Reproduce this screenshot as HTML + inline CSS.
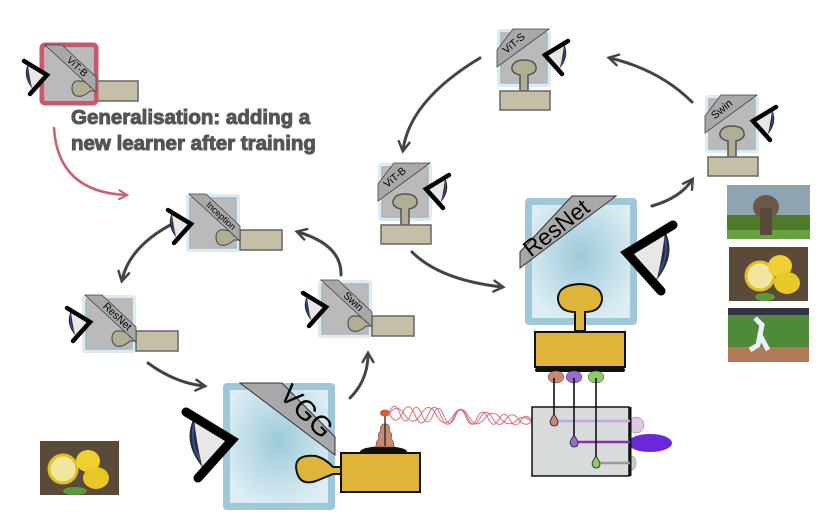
<!DOCTYPE html>
<html><head><meta charset="utf-8"><style>
html,body{margin:0;padding:0;background:#fff;}
svg{display:block;font-family:"Liberation Sans",sans-serif;}
</style></head><body>
<svg width="822" height="530" viewBox="0 0 822 530" xmlns="http://www.w3.org/2000/svg">
<defs>
<radialGradient id="bg" cx="50%" cy="45%" r="60%">
<stop offset="0" stop-color="#9ccada"/><stop offset="1" stop-color="#dcedf3"/>
</radialGradient>
<marker id="ah" viewBox="0 0 10 10" refX="7" refY="5" markerWidth="4.5" markerHeight="4.5" orient="auto">
<path d="M1,1 L8,5 L1,9" fill="none" stroke="#444" stroke-width="1.8" stroke-linecap="round"/>
</marker>
<marker id="ahr" viewBox="0 0 10 10" refX="7" refY="5" markerWidth="4.5" markerHeight="4.5" orient="auto">
<path d="M1,1 L8,5 L1,9" fill="none" stroke="#c96070" stroke-width="1.8" stroke-linecap="round"/>
</marker>
<!-- eye: chevron apex at (6,24), looking right -->
<g id="eyeL">
<path d="M-13,13 L5,24 L-8,38 Q-18,27 -13,13Z" fill="#e8e6e6" stroke="#333" stroke-width="0.5"/>
<path d="M-13,13 Q-19,25 -9,37 Q-12,24 -13,13Z" fill="#2a2a30"/>
<path d="M-13,16 Q-15,25 -10,34" fill="none" stroke="#3050a0" stroke-width="1"/>
<path d="M-17,10 L6,24 L-11,43" fill="none" stroke="#000" stroke-width="4.5" stroke-linecap="round" stroke-linejoin="miter"/>
</g>
<g id="side">
<rect x="0" y="0" width="54" height="58" rx="3" fill="#dcebf1"/>
<rect x="4" y="4" width="46" height="50" fill="#bababa" stroke="#a9b7bc" stroke-width="1.5"/>
<path d="M38,36 Q30,35 30,44 Q31,53 40,51 Q45,49 48,46 L54,46 L54,42 L48,42 Q45,36 38,36Z" fill="#b2ad95" stroke="#555" stroke-width="1.2"/>
<rect x="54" y="36" width="42" height="20" fill="#c6bfa8" stroke="#666" stroke-width="1.5"/>
</g>
<g id="stem">
<rect x="0" y="0" width="54" height="58" rx="3" fill="#dcebf1"/>
<rect x="4" y="4" width="46" height="50" fill="#bababa" stroke="#a9b7bc" stroke-width="1.5"/>
<path d="M23,46 Q14,44 15,38 Q17,31 27,31 Q38,31 39,38 Q40,44 31,46 L31,62 L23,62Z" fill="#b2ad95" stroke="#555" stroke-width="1.5"/>
<rect x="3" y="62" width="50" height="19" fill="#c6bfa8" stroke="#666" stroke-width="1.5"/>
</g>
</defs>

<!-- arrows -->
<g fill="none" stroke="#444" stroke-width="3" stroke-linecap="round">
<path d="M480,58 Q410,100 403,150" marker-end="url(#ah)"/>
<path d="M692,102 Q660,70 610,58" marker-end="url(#ah)"/>
<path d="M652,206 Q680,198 692,180" marker-end="url(#ah)"/>
<path d="M412,252 Q440,280 502,287" marker-end="url(#ah)"/>
<path d="M176,222 Q130,245 122,280" marker-end="url(#ah)"/>
<path d="M148,363 Q175,383 204,386" marker-end="url(#ah)"/>
<path d="M350,398 Q368,380 368,354" marker-end="url(#ah)"/>
<path d="M341,275 Q342,245 298,232" marker-end="url(#ah)"/>
</g>
<path d="M54,128 Q58,192 126,195" fill="none" stroke="#c96070" stroke-width="2.5" stroke-linecap="round" marker-end="url(#ahr)"/>

<!-- text -->
<g font-weight="bold" font-size="20.5" fill="#555" stroke="#555" stroke-width="1">
<text x="71" y="124">Generalisation: adding a</text>
<text x="71" y="150">new learner after training</text>
</g>

<!-- ViT-B top-left (red) -->
<g transform="translate(42,45)">
<use href="#side"/>
<rect x="0" y="0" width="54" height="58" rx="3" fill="none" stroke="#c65a6a" stroke-width="5"/>
<polygon points="3,0 20,0 54,32 54,47" fill="#a8a8a8" stroke="#444" stroke-width="0.8"/>
<text font-size="10" transform="translate(33,24) rotate(43)" text-anchor="middle">ViT-B</text>
<use href="#eyeL" transform="translate(-1,6)"/>
</g>

<!-- Inception -->
<g transform="translate(186,194)">
<use href="#side"/>
<polygon points="3,0 20,0 54,32 54,47" fill="#a8a8a8" stroke="#444" stroke-width="0.8"/>
<text font-size="9" transform="translate(33,24) rotate(43)" text-anchor="middle">Inception</text>
<use href="#eyeL" transform="translate(-1,6)"/>
</g>

<!-- ResNet small -->
<g transform="translate(82,295)">
<use href="#side"/>
<polygon points="3,0 20,0 54,32 54,47" fill="#a8a8a8" stroke="#444" stroke-width="0.8"/>
<text font-size="10.5" transform="translate(33,24) rotate(43)" text-anchor="middle">ResNet</text>
<use href="#eyeL" transform="translate(2,3)"/>
</g>

<!-- Swin mid -->
<g transform="translate(318,280)">
<use href="#side"/>
<polygon points="3,0 20,0 54,32 54,47" fill="#a8a8a8" stroke="#444" stroke-width="0.8"/>
<text font-size="10.5" transform="translate(33,24) rotate(43)" text-anchor="middle">Swin</text>
<use href="#eyeL" transform="translate(2,3)"/>
</g>

<!-- ViT-S -->
<g transform="translate(497,29)">
<use href="#stem"/>
<polygon points="16,0 52,0 0,38 0,21" fill="#a8a8a8" stroke="#444" stroke-width="0.8"/>
<text font-size="10.5" transform="translate(19,17) rotate(-40)" text-anchor="middle">ViT-S</text>
<use href="#eyeL" transform="translate(54,2) scale(-1,1)"/>
</g>

<!-- Swin right -->
<g transform="translate(705,95)">
<use href="#stem"/>
<polygon points="16,0 52,0 0,38 0,21" fill="#a8a8a8" stroke="#444" stroke-width="0.8"/>
<text font-size="11" transform="translate(19,17) rotate(-40)" text-anchor="middle">Swin</text>
<use href="#eyeL" transform="translate(54,2) scale(-1,1)"/>
</g>

<!-- ViT-B mid -->
<g transform="translate(378,163)">
<use href="#stem"/>
<polygon points="16,0 52,0 0,38 0,21" fill="#a8a8a8" stroke="#444" stroke-width="0.8"/>
<text font-size="10.5" transform="translate(19,17) rotate(-40)" text-anchor="middle">ViT-B</text>
<use href="#eyeL" transform="translate(54,2) scale(-1,1)"/>
</g>

<!-- VGG big -->
<g>
<rect x="223" y="383" width="112" height="127" rx="4" fill="#9ec8d7"/>
<rect x="230" y="390" width="98" height="113" fill="url(#bg)"/>
<polygon points="240,383 282,383 335,437 335,455" fill="#a8a8a8" stroke="#333" stroke-width="1"/>
<text font-size="28" transform="translate(300,418) rotate(45)" text-anchor="middle">VGG</text>
<path d="M316,456 Q296,454 296,467 Q298,487 316,481 Q326,477 333,474 L342,474 L342,467 L333,467 Q326,459 316,456Z" fill="#dfb43a" stroke="#111" stroke-width="2"/>
<rect x="341" y="453" width="79" height="39" fill="#dfb43a" stroke="#111" stroke-width="2"/>
<path d="M360,452 Q360,447 384,446 Q407,447 407,452Z" fill="#111"/>
<path d="M376,447 Q376,440 379,439 Q377,433 381,431 Q379,427 383,424 L387,424 Q391,427 389,431 Q393,433 391,439 Q394,440 394,447Z" fill="#c98870" stroke="#6b3f30" stroke-width="0.6"/>
<line x1="385" y1="446" x2="385" y2="414" stroke="#222" stroke-width="1.3"/>
<ellipse cx="385" cy="413" rx="5" ry="3.5" fill="#d45a38"/>
<use href="#eyeL" transform="translate(220,392) scale(2)"/>
</g>

<!-- waves -->
<g fill="none" stroke="#d9707a" stroke-width="1">
<path d="M389,413 Q394.5,399 400,414 Q405.5,428 411,414 Q416.5,400 422,415 Q427.5,429 433,415 Q438.5,401 444,416 Q449.5,430 455,417 Q460.5,403 466,417 Q471.5,431 477,418 Q482.5,406 488,418 Q493.5,430 499,419 Q504.5,409 510,420 Q515.5,430 521,420 Q526.5,412 532,421"/>
<path d="M389,413 Q395.5,427 402,414 Q408.5,399 415,415 Q421.5,431 428,415 Q434.5,399 441,416 Q447.5,432 454,417 Q460.5,402 467,417 Q473.5,431 480,418 Q486.5,406 493,419 Q499.5,430 506,419 Q512.5,410 519,420 Q525.5,428 532,421"/>
<path d="M389,414 Q397,402 405,415 Q413,428 421,414 Q429,400 437,416 Q445,430 453,416 Q461,402 469,417 Q477,430 485,418 Q493,408 501,419 Q509,428 517,420 Q524,414 532,422"/>
</g>

<!-- ResNet big -->
<g>
<rect x="525" y="198" width="112" height="127" rx="4" fill="#9ec8d7"/>
<rect x="532" y="205" width="98" height="113" fill="url(#bg)"/>
<polygon points="572,196 616,196 520,268 520,252" fill="#a8a8a8" stroke="#333" stroke-width="1"/>
<text font-size="23" transform="translate(561,234) rotate(-38)" text-anchor="middle">ResNet</text>
<path d="M575,331 L575,312 Q560,312 558,300 Q557,285 580,284 Q603,285 602,300 Q600,312 585,312 L585,331Z" fill="#dfb43a" stroke="#111" stroke-width="2"/>
<rect x="535" y="332" width="90" height="35" fill="#dfb43a" stroke="#111" stroke-width="2"/>
<rect x="535" y="368" width="90" height="4" rx="2" fill="#111"/>
<g stroke="#444" stroke-width="0.5">
<ellipse cx="556" cy="377" rx="8" ry="6" fill="#c98870"/>
<ellipse cx="574" cy="377" rx="8" ry="6" fill="#9a6ad0"/>
<ellipse cx="596" cy="377" rx="8" ry="6" fill="#8dca68"/>
</g>
<use href="#eyeL" transform="translate(639,205) scale(-2,2)"/>
<!-- gray box -->
<rect x="532" y="407" width="97" height="69" fill="#d8dbdc" stroke="#111" stroke-width="1.5"/>
<ellipse cx="636" cy="425" rx="8" ry="8" fill="#dcc8e4" stroke="#777" stroke-width="0.5"/>
<ellipse cx="650" cy="443" rx="22" ry="9" fill="#6a28d8"/>
<ellipse cx="632" cy="463" rx="4" ry="7" fill="#ccc" stroke="#777" stroke-width="0.5"/>
<line x1="630" y1="407" x2="630" y2="476" stroke="#111" stroke-width="3"/>
<line x1="554" y1="421" x2="630" y2="421" stroke="#c8a8dc" stroke-width="2.5"/>
<line x1="574" y1="442" x2="630" y2="442" stroke="#8a30b0" stroke-width="2.5"/>
<line x1="596" y1="463" x2="630" y2="463" stroke="#999" stroke-width="2.5"/>
<g stroke="#111" stroke-width="1.6">
<line x1="554" y1="378" x2="554" y2="418"/>
<line x1="574" y1="378" x2="574" y2="439"/>
<line x1="596" y1="378" x2="596" y2="459"/>
</g>
<path d="M554,414 Q550,420 550,422 Q551,426 554,426 Q558,426 558,422 Q558,420 554,414Z" fill="#c98870" stroke="#222" stroke-width="0.8"/>
<path d="M574,435 Q570,441 570,443 Q571,447 574,447 Q578,447 578,443 Q578,441 574,435Z" fill="#9a6ad0" stroke="#222" stroke-width="0.8"/>
<path d="M596,456 Q592,462 592,464 Q593,468 596,468 Q600,468 600,464 Q600,462 596,456Z" fill="#8dca68" stroke="#222" stroke-width="0.8"/>
</g>

<!-- photos -->
<g>
<rect x="727" y="185" width="83" height="54" fill="#8fa3b0"/>
<rect x="727" y="215" width="83" height="24" fill="#4f7a2c"/>
<rect x="727" y="230" width="83" height="9" fill="#6aa040"/>
<ellipse cx="766" cy="207" rx="13" ry="12" fill="#6a5848"/>
<rect x="760" y="208" width="12" height="27" fill="#5a4a3c"/>

<rect x="729" y="247" width="79" height="54" fill="#5a4a3a"/>
<circle cx="760" cy="276" r="14" fill="#f0e6a0" stroke="#e0c020" stroke-width="3"/>
<ellipse cx="780" cy="266" rx="12" ry="11" fill="#f0d030"/>
<ellipse cx="787" cy="283" rx="13" ry="11" fill="#e8c828"/>
<ellipse cx="765" cy="297" rx="10" ry="4" fill="#5a9a3a"/>

<rect x="728" y="308" width="81" height="54" fill="#4f8a3a"/>
<rect x="728" y="308" width="81" height="7" fill="#334"/>
<rect x="728" y="347" width="81" height="15" fill="#b07a5a"/>
<path d="M755,318 L762,325 L758,345 L750,350 M760,335 L768,350" stroke="#eef" stroke-width="5" fill="none"/>

<rect x="40" y="441" width="79" height="54" fill="#5a4a3a"/>
<circle cx="63" cy="469" r="14" fill="#f0e6a0" stroke="#e0c020" stroke-width="3"/>
<ellipse cx="88" cy="461" rx="12" ry="11" fill="#f0d030"/>
<ellipse cx="96" cy="478" rx="13" ry="11" fill="#e8c828"/>
<ellipse cx="75" cy="491" rx="12" ry="4" fill="#5a9a3a"/>
</g>
</svg>
</body></html>
